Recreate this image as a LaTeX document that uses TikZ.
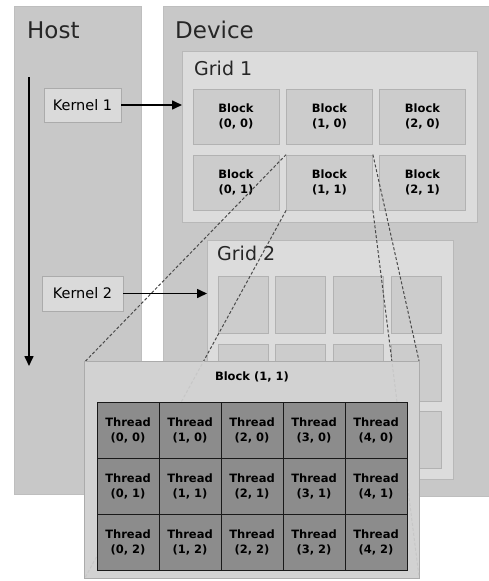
\documentclass[tikz,border=0pt]{standalone}
\usepackage{fontspec}
\setmainfont{DejaVu Sans}
\usetikzlibrary{arrows.meta}
\definecolor{pgray}{HTML}{C8C8C8}
\definecolor{pborder}{HTML}{BEBEBE}
\definecolor{gridbg}{HTML}{DCDCDC}
\definecolor{gridbd}{HTML}{B8B8B8}
\definecolor{blkfill}{HTML}{CCCCCC}
\definecolor{blkbd}{HTML}{B2B2B2}
\definecolor{kfill}{HTML}{DADADA}
\definecolor{kbd}{HTML}{ABABAB}
\definecolor{bpfill}{HTML}{D2D2D2}
\definecolor{bpbd}{HTML}{ABABAB}
\definecolor{thfill}{HTML}{8C8C8C}
\definecolor{dashc}{HTML}{4A4A4A}
\begin{document}
\begin{tikzpicture}[x=1pt,y=-1pt,
  region/.style={draw=pborder,fill=pgray,line width=0.8pt},
  gridbox/.style={draw=gridbd,fill=gridbg,line width=0.8pt},
  blk/.style={draw=blkbd,fill=blkfill,line width=0.8pt,minimum width=86pt,minimum height=55pt,inner sep=0pt,align=center,font=\fontsize{11.5}{15}\selectfont\bfseries},
  sblk/.style={draw=blkbd,fill=blkfill,line width=0.8pt,minimum width=50pt,minimum height=57pt,inner sep=0pt},
  kern/.style={draw=kbd,fill=kfill,line width=0.8pt,inner sep=0pt,font=\fontsize{14.5}{17}\selectfont},
  bigtitle/.style={anchor=base west,inner sep=0pt,font=\fontsize{23}{27}\selectfont,text=black!85},
  gtitle/.style={anchor=base west,inner sep=0pt,font=\fontsize{19}{22}\selectfont,text=black!85},
  thr/.style={draw=black!90,fill=thfill,line width=1pt,minimum width=62pt,minimum height=56pt,inner sep=0pt,align=center,font=\fontsize{11.5}{15}\selectfont\bfseries},
  bpanel/.style={minimum width=334pt,minimum height=216pt,inner sep=0pt},
  dashl/.style={draw=dashc,line width=1pt,dash pattern=on 3pt off 2pt},
  faintl/.style={draw=black!22,line width=1pt,dash pattern=on 3pt off 2pt},
  arr/.style={line width=1.6pt,-{Triangle[length=10pt,width=9pt]}}]
\useasboundingbox (0,0) rectangle (488,581);
% host and device
\path[region] (14,6) rectangle (141,494);
\path[region] (163,6) rectangle (492,496);
\node[bigtitle] (host) at (27,38) {Host};
\node[bigtitle] (dev) at (175,38) {Device};
% grid 1
\path[gridbox] (182,51) rectangle (477,222);
\node[gtitle] (g1) at (194,75) {Grid 1};
\node[blk] (b00) at (236,116.5) {Block\\(0, 0)};
\node[blk] (b10) at (329.5,116.5) {Block\\(1, 0)};
\node[blk] (b20) at (422.5,116.5) {Block\\(2, 0)};
\node[blk] (b01) at (236,182.5) {Block\\(0, 1)};
\node[blk] (b11) at (329.5,182.5) {Block\\(1, 1)};
\node[blk] (b21) at (422.5,182.5) {Block\\(2, 1)};
% grid 2
\path[gridbox] (207,240) rectangle (453,479);
\node[gtitle] (g2) at (217,260) {Grid 2};
\foreach \i/\x in {0/243,1/300,2/358,3/416}{
  \foreach \j/\y in {0/304.5,1/372.5,2/440}{
    \node[sblk] (s\i\j) at (\x,\y) {};
  }
}
% kernels
\node[kern,minimum width=77pt,minimum height=34pt] (k1) at (82.5,105) {Kernel 1};
\node[kern,minimum width=81pt,minimum height=35pt] (k2) at (82.5,293.5) {Kernel 2};
\coordinate (tl0) at (29,77);
\coordinate (tl1) at (29,366);
\coordinate (g1in) at (182,105);
\coordinate (g2in) at (207,293.5);
% anchor frame of the block panel
\node[bpanel] (bp) at (252,470) {};
% dashed projection lines
\draw[dashl] (b11.north west) -- (bp.north west);
\draw[dashl] (b11.north east) -- (bp.north east);
\draw[dashl] (b11.south west) -- (bp.south west);
\draw[dashl] (b11.south east) -- (bp.south east);
% arrows
\draw[arr] (tl0) -- (tl1);
\draw[arr] (k1.east) -- (g1in);
\draw[arr] (k2.east) -- (g2in);
% block panel on top
\path[draw=bpbd,fill=bpfill,line width=0.8pt] (bp.north west) rectangle (bp.south east);
\begin{scope}
\clip (bp.north west) rectangle (bp.south east);
\draw[faintl] (b11.north west) -- (bp.north west);
\draw[faintl] (b11.north east) -- (bp.north east);
\draw[faintl] (b11.south west) -- (bp.south west);
\draw[faintl] (b11.south east) -- (bp.south east);
\end{scope}
\node[anchor=base,inner sep=0pt,font=\fontsize{11.5}{15}\selectfont\bfseries] (bplabel) at (252,380) {Block (1, 1)};
\foreach \i/\x in {0/128,1/190,2/252,3/314,4/376}{
  \foreach \j/\y in {0/430,1/486,2/542}{
    \node[thr] (t\i\j) at (\x,\y) {Thread\\(\i, \j)};
  }
}
\end{tikzpicture}
\end{document}
